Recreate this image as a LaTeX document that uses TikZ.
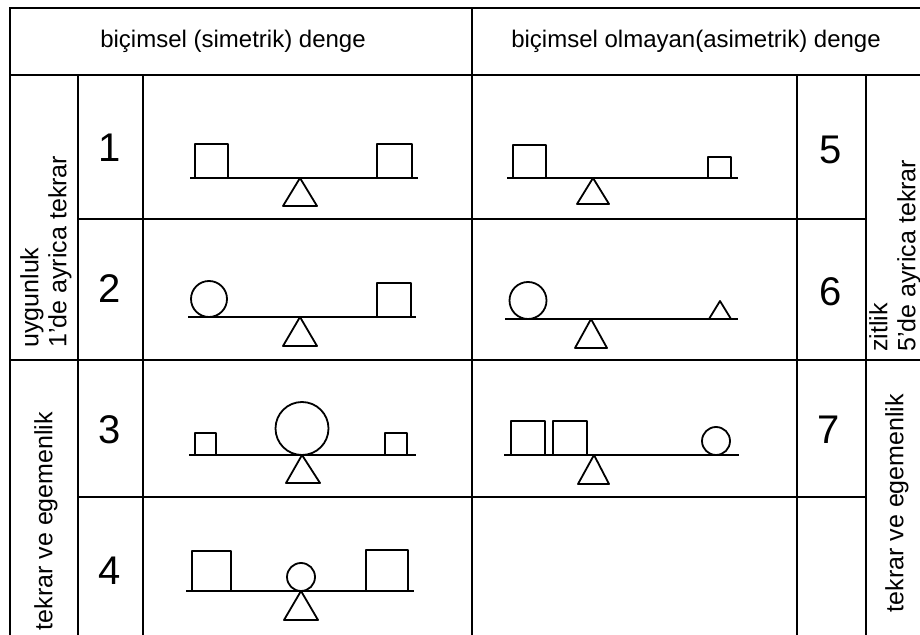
\documentclass[tikz,border=0pt]{standalone}
\usepackage{fontspec}
\setsansfont{Liberation Sans}
\tikzset{
  rule/.style={line width=1pt, line cap=rect},
  figline/.style={line width=0.9pt, line join=round},
  head/.style={font=\sffamily\fontsize{12}{14}\selectfont, inner sep=0pt},
  numb/.style={font=\sffamily\fontsize{20}{24}\selectfont, inner sep=0pt},
  side/.style={font=\sffamily\fontsize{12.5}{14}\selectfont, inner sep=0pt, rotate=90, align=left},
}
\begin{document}
\begin{tikzpicture}[x=0.5pt, y=-0.5pt]
  \useasboundingbox (0,0) rectangle (920,635);
  \clip (0,0) rectangle (920,635);
  \draw[rule] (10,8) -- (930,8);
  \draw[rule] (10,75) -- (930,75);
  \draw[rule] (10,360) -- (930,360);
  \draw[rule] (78,219) -- (866,219);
  \draw[rule] (78,497) -- (866,497);
  \draw[rule] (10,8) -- (10,640);
  \draw[rule] (472,8) -- (472,640);
  \foreach \x in {78,143,797,866} \draw[rule] (\x,75) -- (\x,640);

  \node[head] (sym) at (233,41) {biçimsel (simetrik) denge};
  \node[head] (asym) at (696,41) {biçimsel olmayan(asimetrik) denge};

  \foreach \n/\x/\y in {1/110/148, 2/110/289, 3/110/430, 4/110/571, 5/831/150, 6/831/292, 7/829/430}
    \node[numb] (n\n) at (\x,\y) {\n};

  \node[side, anchor=west] (uyg) at (46,348) {uygunluk\\1'de ayrica tekrar};
  \node[side] (tekL) at (46,521) {tekrar ve egemenlik};
  \node[side, anchor=west] (zit) at (895,352) {zitlik\\5'de ayrica tekrar};
  \node[side] (tekR) at (897,503) {tekrar ve egemenlik};

  % 1
  \draw[figline] (190,178) -- (418,178);
  \draw[figline] (195,178) rectangle (228,144);
  \draw[figline] (377,178) rectangle (412,144);
  \draw[figline] (300,178) -- (317,206) -- (283,206) -- cycle;
  % 2
  \draw[figline] (188,317) -- (416,317);
  \draw[figline] (209,299) circle[radius=18];
  \draw[figline] (377,317) rectangle (411,283);
  \draw[figline] (300,317) -- (317,346) -- (283,346) -- cycle;
  % 3
  \draw[figline] (189,455) -- (416,455);
  \draw[figline] (195,455) rectangle (216,433);
  \draw[figline] (385,455) rectangle (407,433);
  \draw[figline] (302,428.5) circle[radius=26.5];
  \draw[figline] (302,455) -- (320,483) -- (286,483) -- cycle;
  % 4
  \draw[figline] (186,591) -- (414,591);
  \draw[figline] (192,591) rectangle (231,551);
  \draw[figline] (366,591) rectangle (408,550);
  \draw[figline] (301,577) circle[radius=14];
  \draw[figline] (301,591) -- (318,620) -- (284,620) -- cycle;
  % 5
  \draw[figline] (507,178) -- (738,178);
  \draw[figline] (513,178) rectangle (546,145);
  \draw[figline] (708,178) rectangle (731,157);
  \draw[figline] (593,178) -- (609,204) -- (577,204) -- cycle;
  % 6
  \draw[figline] (505,319) -- (738,319);
  \draw[figline] (528,300.5) circle[radius=18.5];
  \draw[figline] (720,301) -- (731,319) -- (709,319) -- cycle;
  \draw[figline] (591,319) -- (607,348) -- (575,348) -- cycle;
  % 7
  \draw[figline] (504,455) -- (739,455);
  \draw[figline] (511,455) rectangle (545,421);
  \draw[figline] (553,455) rectangle (587,421);
  \draw[figline] (716,441) circle[radius=14];
  \draw[figline] (594,455) -- (609,484) -- (578,484) -- cycle;
\end{tikzpicture}
\end{document}
